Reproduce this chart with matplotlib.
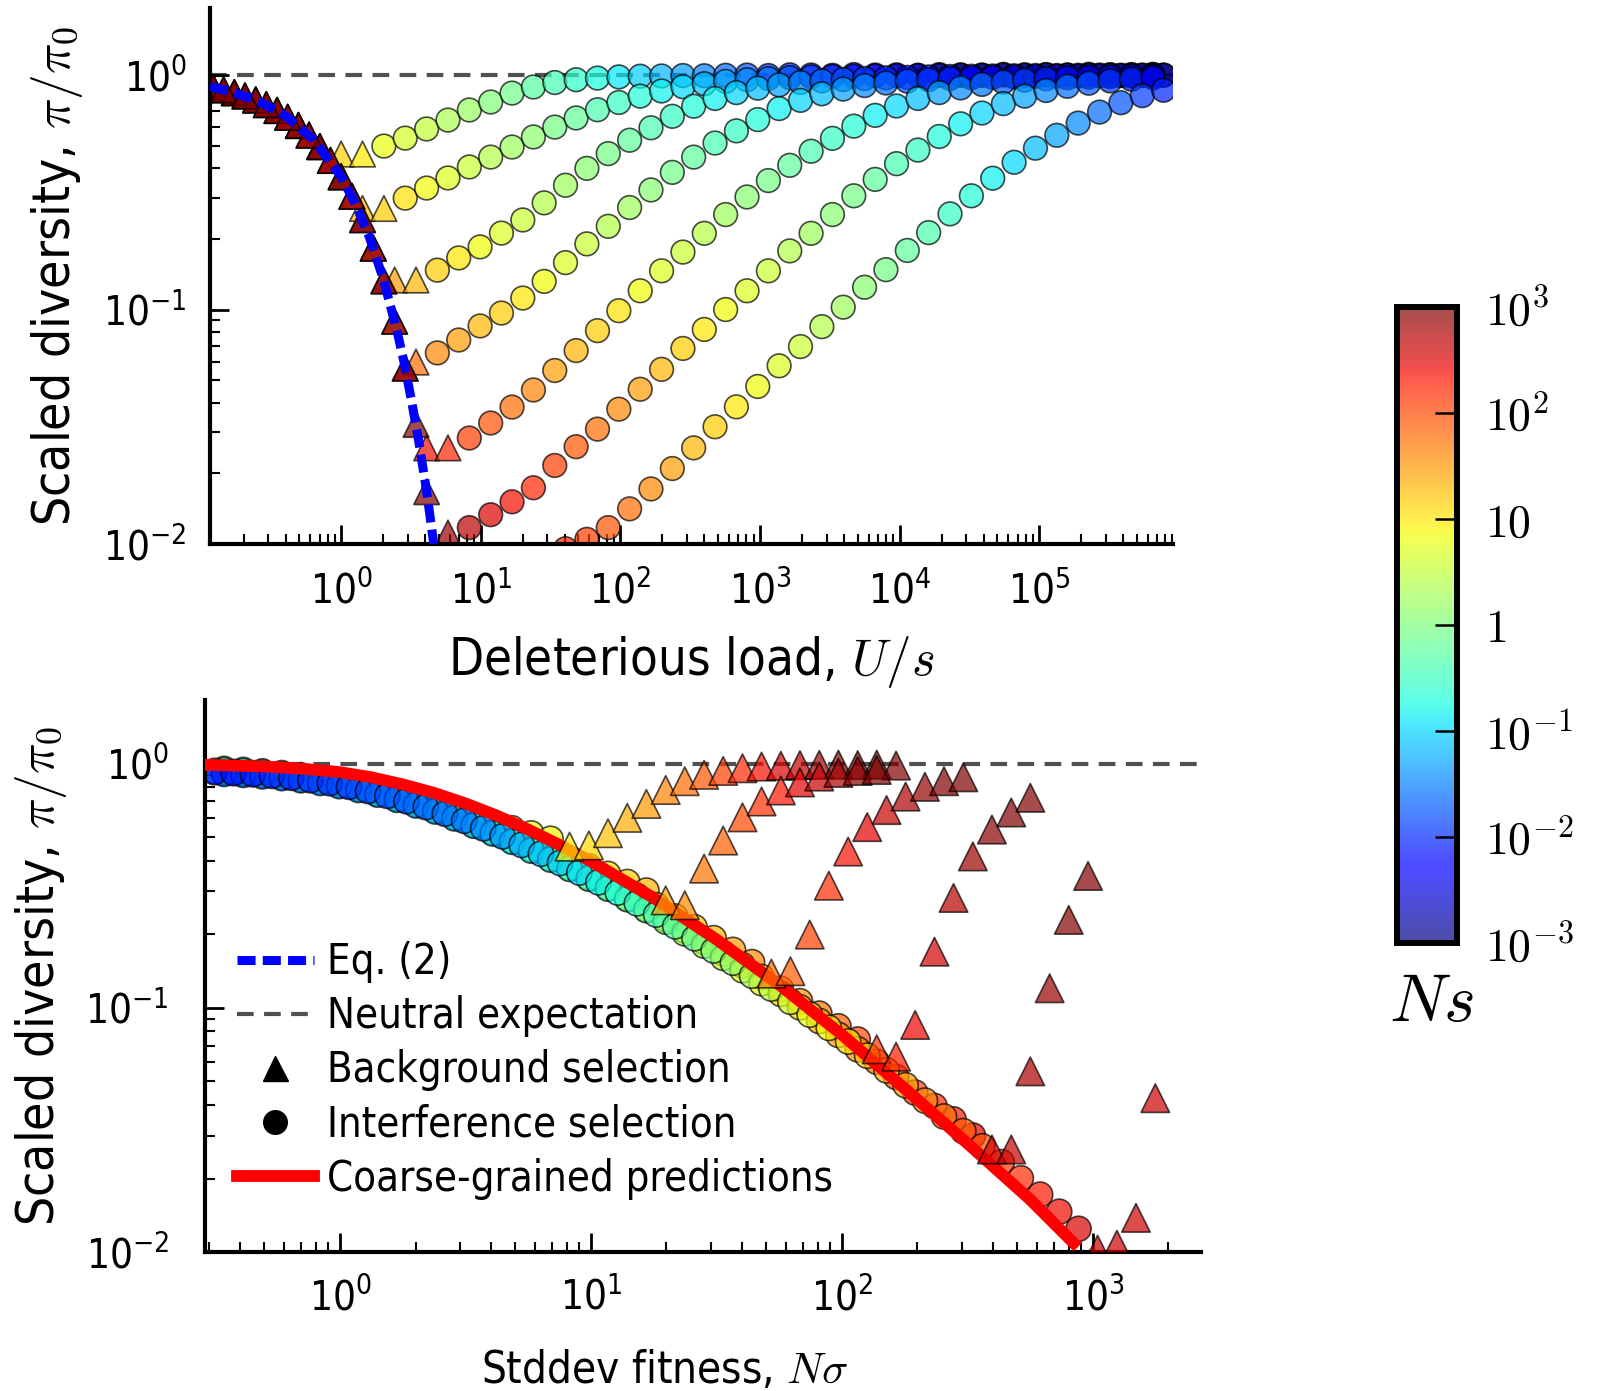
import numpy as np
import matplotlib.pyplot as plt
from matplotlib.colors import LogNorm, ListedColormap
from matplotlib.cm import ScalarMappable
from matplotlib.lines import Line2D
from matplotlib.ticker import LogLocator, NullLocator, NullFormatter

plt.rcParams['font.family'] = ['DejaVu Sans']
plt.rcParams['font.stretch'] = 'condensed'
plt.rcParams['mathtext.fontset'] = 'dejavusans'

# ---------------- top panel: pi/pi0 vs U/s (log10 values) ----------------
top_log_us_a = [-0.918, -0.765, -0.612, -0.459, -0.306, -0.153, 0.000, 0.153, 0.306, 0.459,
                0.612, 0.765, 0.918, 1.071, 1.224, 1.377, 1.530, 1.683, 1.836, 1.989,
                2.142, 2.295, 2.448, 2.601, 2.754, 2.907, 3.060, 3.213, 3.366, 3.519,
                3.672, 3.825, 3.978, 4.131, 4.284, 4.437, 4.590, 4.743, 4.896, 5.049,
                5.202, 5.355, 5.508, 5.661, 5.814]
top_log_us_b = [-0.842, -0.689, -0.536, -0.383, -0.230, -0.077, 0.077, 0.230, 0.383, 0.536,
                0.689, 0.842, 0.995, 1.148, 1.301, 1.454, 1.607, 1.760, 1.913, 2.066,
                2.219, 2.372, 2.525, 2.678, 2.831, 2.984, 3.137, 3.290, 3.443, 3.596,
                3.749, 3.902, 4.055, 4.208, 4.361, 4.514, 4.667, 4.820, 4.973, 5.126,
                5.279, 5.432, 5.585, 5.738, 5.891]

# NU of each curve (sets the Ns colour along the curve)
top_nu = [13, 30, 70, 200, 1000, 4000, 6850]
top_circ_start = [8, 9, 10, 10, 12, 12, 16]

a_tri = [-0.053, -0.075, -0.106, -0.151, -0.215, -0.305, -0.337, -0.337]
a_circ = [-0.303, -0.269, -0.230, -0.192, -0.149, -0.115, -0.077, -0.051, -0.032, -0.020,
          -0.013, -0.008, -0.005, -0.004, -0.002, -0.003, -0.001, 0.000, -0.002, 0.001,
          0.000, -0.001, 0.002, 0.000, 0.001, -0.001, 0.002, 0.001, 0.000, 0.003,
          0.001, 0.002, 0.000, 0.003, 0.001, 0.002, 0.003]
b_tri = [-0.053, -0.075, -0.106, -0.151, -0.215, -0.305, -0.434, -0.569, -0.569]
b_circ = [-0.525, -0.482, -0.439, -0.392, -0.350, -0.307, -0.264, -0.222, -0.183, -0.148,
          -0.117, -0.090, -0.068, -0.050, -0.037, -0.027, -0.020, -0.015, -0.011, -0.008,
          -0.006, -0.005, -0.004, -0.003, -0.002, -0.002, -0.001, -0.001, 0.000, -0.001,
          0.001, 0.000, 0.000, 0.001, 0.000, 0.001]
c_tri = [-0.063, -0.089, -0.126, -0.180, -0.256, -0.364, -0.517, -0.738, -0.874, -0.874]
c_circ = [-0.832, -0.780, -0.733, -0.674, -0.618, -0.545, -0.470, -0.398, -0.335, -0.278,
          -0.225, -0.176, -0.133, -0.100, -0.075, -0.056, -0.042, -0.032, -0.025, -0.019,
          -0.015, -0.012, -0.010, -0.008, -0.006, -0.005, -0.004, -0.003, -0.002, -0.002,
          -0.001, 0.000, -0.001, 0.000, 0.000]
d_tri = [-0.063, -0.089, -0.126, -0.180, -0.256, -0.364, -0.517, -0.738, -1.050, -1.224]
d_circ = [-1.185, -1.130, -1.070, -1.015, -0.951, -0.880, -0.800, -0.720, -0.645, -0.565,
          -0.490, -0.415, -0.350, -0.290, -0.238, -0.190, -0.143, -0.108, -0.080, -0.060,
          -0.045, -0.034, -0.026, -0.020, -0.015, -0.012, -0.010, -0.008, -0.006, -0.005,
          -0.004, -0.003, -0.002, -0.002, -0.001]
e_tri = [-0.053, -0.075, -0.106, -0.151, -0.215, -0.305, -0.434, -0.617, -0.878, -1.250,
         -1.590, -1.590]
e_circ = [-1.548, -1.484, -1.416, -1.343, -1.260, -1.175, -1.090, -1.005, -0.920, -0.835,
          -0.755, -0.675, -0.595, -0.520, -0.450, -0.385, -0.325, -0.270, -0.218, -0.172,
          -0.132, -0.100, -0.075, -0.055, -0.040, -0.030, -0.022, -0.016, -0.012, -0.009,
          -0.007, -0.005, -0.004]
f_tri = [-0.053, -0.075, -0.106, -0.151, -0.215, -0.305, -0.434, -0.617, -0.878, -1.250,
         -1.777, -1.953]
f_circ = [-1.930, -1.875, -1.820, -1.760, -1.665, -1.585, -1.510, -1.425, -1.340, -1.255,
          -1.166, -1.085, -1.000, -0.920, -0.835, -0.750, -0.675, -0.595, -0.515, -0.445,
          -0.378, -0.320, -0.262, -0.208, -0.162, -0.122, -0.090, -0.066, -0.048, -0.035,
          -0.025, -0.018, -0.012]
g_tri = [-0.063, -0.089, -0.126, -0.180, -0.256, -0.364, -0.517, -0.738, -1.050, -1.490]
g_circ = [-2.020, -1.980, -1.930, -1.850, -1.765, -1.678, -1.590, -1.500, -1.415, -1.328,
          -1.240, -1.158, -1.073, -0.990, -0.905, -0.830, -0.748, -0.672, -0.592, -0.515,
          -0.440, -0.372, -0.312, -0.257, -0.205, -0.158, -0.118, -0.088, -0.065]

eq2_log_us = [-0.94, -0.8, -0.6, -0.4, -0.2, 0.0, 0.1, 0.2, 0.3, 0.4, 0.45, 0.5, 0.55, 0.6, 0.63, 0.663]
eq2_log_pi = [-0.050, -0.069, -0.109, -0.173, -0.274, -0.434, -0.547, -0.688, -0.866, -1.091,
              -1.224, -1.377, -1.541, -1.728, -1.853, -2.0]

# ---------------- bottom panel: pi/pi0 vs N sigma ----------------
bot_log_ns_g1 = [-0.500, -0.424, -0.347, -0.271, -0.194, -0.118, -0.041, 0.036, 0.112, 0.189,
                 0.265, 0.342, 0.418, 0.495, 0.571, 0.648, 0.724, 0.801, 0.877, 0.954,
                 1.030, 1.107, 1.183, 1.260, 1.336, 1.413, 1.489, 1.566, 1.642, 1.719,
                 1.795, 1.872, 1.948, 2.025, 2.101, 2.178, 2.254, 2.331, 2.407, 2.484,
                 2.560, 2.637, 2.713, 2.790, 2.866, 2.943, 3.019, 3.096, 3.172, 3.249]
bot_log_ns_g2 = [-0.462, -0.385, -0.309, -0.232, -0.156, -0.079, -0.003, 0.074, 0.150, 0.227,
                 0.303, 0.380, 0.456, 0.533, 0.609, 0.686, 0.762, 0.839, 0.915, 0.992,
                 1.068, 1.145, 1.221, 1.298, 1.374, 1.451, 1.527, 1.604, 1.680, 1.757,
                 1.833, 1.910, 1.986, 2.063, 2.139, 2.216, 2.292, 2.369, 2.445, 2.522,
                 2.598, 2.675, 2.751, 2.828, 2.904, 2.981, 3.057]

# Ns colour read along the lowest (largest-load) series, and the shift of each series
ns_color_lx = [-0.5, 0.0, 0.5, 1.0, 1.5, 2.0, 2.5, 3.0]
ns_color_log = [-2.2, -1.95, -1.6, -0.9, 0.0, 1.0, 1.9, 2.6]
bot_color_shift = [2.0, 1.8, 1.3, 0.9, 0.5, 0.0]

s1_circ = [-0.022, -0.026, -0.032, -0.039, -0.048, -0.059, -0.072, -0.088, -0.107, -0.128,
           -0.151, -0.176, -0.194, -0.219, -0.241, -0.265, -0.286, -0.308]
s1_tri = [-0.340, -0.335, -0.285, -0.222, -0.165, -0.108, -0.072, -0.046, -0.030, -0.019,
          -0.012, -0.009, -0.006, -0.005, -0.004, -0.006, -0.004, -0.008]
s2_circ = [-0.027, -0.031, -0.037, -0.044, -0.053, -0.064, -0.077, -0.093, -0.112, -0.133,
           -0.156, -0.181, -0.209, -0.239, -0.266, -0.295, -0.326, -0.358, -0.391, -0.421,
           -0.452, -0.485, -0.520]
s2_tri = [-0.560, -0.580, -0.430, -0.315, -0.220, -0.155, -0.110, -0.077, -0.053, -0.038,
          -0.030, -0.026]
s3_circ = [-0.030, -0.034, -0.039, -0.045, -0.053, -0.063, -0.075, -0.090, -0.107, -0.127,
           -0.149, -0.173, -0.200, -0.229, -0.260, -0.293, -0.323, -0.358, -0.394, -0.431,
           -0.468, -0.503, -0.542, -0.580, -0.626, -0.670, -0.715, -0.763, -0.813]
s3_tri = [-0.860, -0.850, -0.700, -0.500, -0.360, -0.260, -0.190, -0.135, -0.095, -0.072,
          -0.056]
s4_circ = [-0.037, -0.041, -0.047, -0.054, -0.063, -0.074, -0.087, -0.103, -0.122, -0.143,
           -0.166, -0.191, -0.219, -0.249, -0.281, -0.315, -0.351, -0.388, -0.426, -0.466,
           -0.507, -0.550, -0.595, -0.637, -0.683, -0.730, -0.777, -0.826, -0.874, -0.923,
           -0.973, -1.024, -1.076, -1.130]
s4_tri = [-1.170, -1.200, -1.070, -0.770, -0.550, -0.380, -0.270, -0.200, -0.140]
s5_circ = [-0.042, -0.046, -0.052, -0.059, -0.068, -0.079, -0.092, -0.108, -0.127, -0.148,
           -0.171, -0.196, -0.224, -0.254, -0.286, -0.320, -0.356, -0.393, -0.431, -0.471,
           -0.512, -0.555, -0.600, -0.647, -0.695, -0.745, -0.795, -0.846, -0.899, -0.943,
           -0.998, -1.054, -1.111, -1.170, -1.221, -1.283, -1.347, -1.402, -1.457, -1.523]
s5_tri = [-1.580, -1.580, -1.260, -0.920, -0.640, -0.460]
s6_circ = [-0.035, -0.039, -0.044, -0.050, -0.058, -0.068, -0.080, -0.095, -0.112, -0.132,
           -0.154, -0.178, -0.205, -0.234, -0.265, -0.298, -0.333, -0.369, -0.407, -0.446,
           -0.486, -0.528, -0.572, -0.618, -0.666, -0.715, -0.765, -0.815, -0.868, -0.921,
           -0.975, -1.028, -1.082, -1.138, -1.196, -1.256, -1.317, -1.380, -1.445, -1.505,
           -1.567, -1.632, -1.698, -1.765, -1.835, -1.905]
s6_tri = [-1.990, -1.970, -1.860, -1.370]

red_log_ns = [-0.54, -0.3, -0.15, 0.0, 0.125, 0.25, 0.375, 0.5, 0.625, 0.75, 0.875, 1.0,
              1.25, 1.5, 1.75, 2.0, 2.25, 2.5, 2.75, 2.94]
red_log_pi = [-0.005, -0.012, -0.021, -0.035, -0.056, -0.085, -0.12, -0.163, -0.213, -0.27,
              -0.333, -0.40, -0.55, -0.72, -0.905, -1.11, -1.33, -1.555, -1.785, -1.98]

cbar_ticks = [1e-3, 1e-2, 1e-1, 1, 10, 1e2, 1e3]
cbar_labels = [r'$10^{-3}$', r'$10^{-2}$', r'$10^{-1}$', r'$1$', r'$10$', r'$10^{2}$', r'$10^{3}$']

# ---------------- drawing ----------------
jet = plt.get_cmap('jet')
norm = LogNorm(vmin=1e-3, vmax=1e3, clip=True)
ALPHA = 0.7


def dots(ax, lx, ly, ns, marker, size, z):
    ax.scatter(10 ** np.asarray(lx), 10 ** np.asarray(ly), c=ns, cmap=jet, norm=norm,
               marker=marker, s=size, alpha=ALPHA, edgecolors='k', linewidths=1.2,
               zorder=z, clip_on=True)


def style(ax, xlim, ylim, ypad, xpad):
    ax.set_xscale('log')
    ax.set_yscale('log')
    ax.set_xlim(*xlim)
    ax.set_ylim(*ylim)
    for side in ['top', 'right']:
        ax.spines[side].set_visible(False)
    for side in ['left', 'bottom']:
        ax.spines[side].set_linewidth(3)
    for axis in [ax.xaxis, ax.yaxis]:
        axis.set_major_locator(LogLocator(base=10, numticks=100))
        axis.set_minor_locator(LogLocator(base=10, subs=np.arange(2, 10), numticks=100))
        axis.set_minor_formatter(NullFormatter())
    ax.tick_params(which='major', direction='in', length=14, width=2, labelsize=29)
    ax.tick_params(which='minor', direction='in', length=7, width=1.5)
    ax.tick_params(axis='y', which='major', pad=ypad)
    ax.tick_params(axis='x', which='major', pad=xpad)
    ax.tick_params(top=False, right=False, which='both')


fig = plt.figure(figsize=(16.07, 13.91), dpi=100)
ax1 = fig.add_axes([0.1307, 0.6089, 0.5993, 0.3853])
ax2 = fig.add_axes([0.1276, 0.0999, 0.6198, 0.3968])
cax = fig.add_axes([0.8693, 0.3221, 0.0373, 0.4572])

# top panel
ax1.axhline(1.0, color='#505050', lw=3, dashes=(4, 2.5), zorder=1)
top_sets = [(top_log_us_a, a_tri, a_circ), (top_log_us_a, b_tri, b_circ),
            (top_log_us_b, c_tri, c_circ), (top_log_us_b, d_tri, d_circ),
            (top_log_us_a, e_tri, e_circ), (top_log_us_a, f_tri, f_circ),
            (top_log_us_b, g_tri, g_circ)]
for (grid, tri, circ), nu, cs in zip(top_sets, top_nu, top_circ_start):
    grid = np.asarray(grid)
    tlx = grid[:len(tri)]
    clx = grid[cs:cs + len(circ)]
    dots(ax1, tlx, tri, nu / 10 ** tlx, '^', 340, 2)
    dots(ax1, clx, circ, nu / 10 ** clx, 'o', 290, 2)
ax1.plot(10 ** np.asarray(eq2_log_us), 10 ** np.asarray(eq2_log_pi), color='#0000ff',
         lw=6.5, dashes=(2, 0.8), zorder=3)
style(ax1, (0.115, 9.1e5), (0.01, 1.93), 17, 20)
ax1.set_xlabel(r'Deleterious load, $U/s$', fontsize=36.5, math_fontfamily='cm')
ax1.set_ylabel(r'Scaled diversity, $\pi/\pi_0$', fontsize=37, math_fontfamily='cm')
ax1.xaxis.set_label_coords(0.5, -0.168)
ax1.yaxis.set_label_coords(-0.13, 0.5)

# bottom panel
ax2.axhline(1.0, color='#505050', lw=3, dashes=(4, 2.5), zorder=1)
bot_sets = [(bot_log_ns_g2, s1_circ, s1_tri), (bot_log_ns_g2, s2_circ, s2_tri),
            (bot_log_ns_g1, s3_circ, s3_tri), (bot_log_ns_g2, s4_circ, s4_tri),
            (bot_log_ns_g2, s5_circ, s5_tri), (bot_log_ns_g1, s6_circ, s6_tri)]
tri_store = []
for (grid, circ, tri), shift in zip(bot_sets, bot_color_shift):
    grid = np.asarray(grid)
    clx = grid[:len(circ)]
    tlx = grid[len(circ):len(circ) + len(tri)]
    c_ns = 10 ** (np.interp(clx, ns_color_lx, ns_color_log) + shift)
    t_ns = 10 ** (np.interp(tlx, ns_color_lx, ns_color_log) + shift)
    dots(ax2, clx, circ, c_ns, 'o', 330, 2)
    tri_store.append((tlx, tri, t_ns))
ax2.plot(10 ** np.asarray(red_log_ns), 10 ** np.asarray(red_log_pi), color='#ff0000',
         lw=8.5, solid_capstyle='butt', zorder=3)
for tlx, tri, ns in tri_store:
    dots(ax2, tlx, tri, ns, '^', 420, 4)
style(ax2, (0.29, 2700), (0.01, 1.82), 26, 19)
ax2.set_xlabel(r'Stddev fitness, $N\sigma$', fontsize=31.5, math_fontfamily='cm')
ax2.set_ylabel(r'Scaled diversity, $\pi/\pi_0$', fontsize=37, math_fontfamily='cm')
ax2.xaxis.set_label_coords(0.462, -0.175)
ax2.yaxis.set_label_coords(-0.137, 0.5)

handles = [
    Line2D([], [], color='#0000ff', lw=6.5, dashes=(2, 0.8)),
    Line2D([], [], color='#505050', lw=3, dashes=(4, 2.5)),
    Line2D([], [], color='k', marker='^', ms=18, ls='none'),
    Line2D([], [], color='k', marker='o', ms=17, ls='none'),
    Line2D([], [], color='#ff0000', lw=8.5),
]
labels = ['Eq. (2)', 'Neutral expectation', 'Background selection',
          'Interference selection', 'Coarse-grained predictions']
ax2.legend(handles, labels, loc='upper left', bbox_to_anchor=(0.032, 0.563),
           frameon=False, fontsize=30, handlelength=1.85, handletextpad=0.3,
           labelspacing=0.29, borderpad=0, borderaxespad=0)

# colorbar (jet seen through the same transparency as the markers)
base = jet(np.linspace(0, 1, 256))
faded = base.copy()
faded[:, :3] = ALPHA * base[:, :3] + (1 - ALPHA)
sm = ScalarMappable(norm=LogNorm(vmin=1e-3, vmax=1e3), cmap=ListedColormap(faded))
cb = fig.colorbar(sm, cax=cax, ticks=cbar_ticks)
cb.outline.set_linewidth(4.3)
cax.yaxis.set_minor_locator(NullLocator())
cax.set_yticks(cbar_ticks)
cax.set_yticklabels(cbar_labels)
cax.tick_params(which='major', direction='in', length=16, width=1.8, pad=20, labelsize=33,
                right=True, left=False)
for t in cax.get_yticklabels():
    t.set_math_fontfamily('cm')
fig.text(0.891, 0.2797, r'$Ns$', fontsize=49, math_fontfamily='cm', ha='center', va='center')

fig.savefig('out.png', dpi=100)
